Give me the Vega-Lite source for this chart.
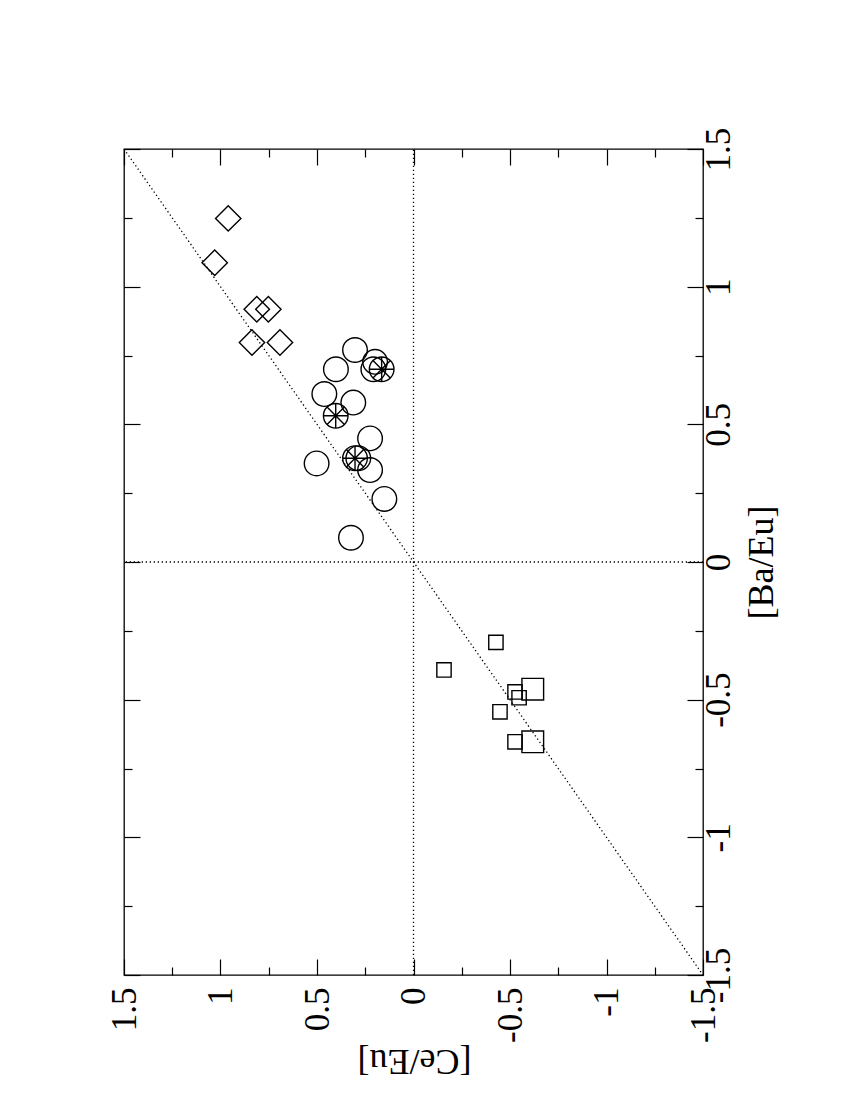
{
  "$schema": "https://vega.github.io/schema/vega-lite/v6.json",
  "width": 579,
  "height": 826,
  "autosize": "none",
  "padding": {"left": 124, "top": 149, "right": 147, "bottom": 125},
  "background": "white",
  "config": {
    "view": {"stroke": "black", "strokeWidth": 1.3, "fill": "white"},
    "axis": {"grid": false, "domain": false}
  },
  "datasets": {
    "lines": [
      {"ce1": 1.5, "ba1": 1.5, "ce2": -1.5, "ba2": -1.5},
      {"ce1": 0, "ba1": -1.5, "ce2": 0, "ba2": 1.5},
      {"ce1": -1.5, "ba1": 0, "ce2": 1.5, "ba2": 0}
    ],
    "pts": [
      {"ce": 0.96, "ba": 1.248, "type": "diamond"},
      {"ce": 1.03, "ba": 1.087, "type": "diamond"},
      {"ce": 0.812, "ba": 0.918, "type": "diamond"},
      {"ce": 0.752, "ba": 0.918, "type": "diamond"},
      {"ce": 0.837, "ba": 0.797, "type": "diamond"},
      {"ce": 0.692, "ba": 0.797, "type": "diamond"},
      {"ce": 0.303, "ba": 0.770, "type": "circle"},
      {"ce": 0.199, "ba": 0.727, "type": "circle"},
      {"ce": 0.402, "ba": 0.700, "type": "circle"},
      {"ce": 0.208, "ba": 0.700, "type": "circle"},
      {"ce": 0.165, "ba": 0.700, "type": "circle"},
      {"ce": 0.462, "ba": 0.610, "type": "circle"},
      {"ce": 0.312, "ba": 0.579, "type": "circle"},
      {"ce": 0.403, "ba": 0.531, "type": "circle"},
      {"ce": 0.225, "ba": 0.449, "type": "circle"},
      {"ce": 0.286, "ba": 0.377, "type": "circle"},
      {"ce": 0.303, "ba": 0.377, "type": "circle"},
      {"ce": 0.502, "ba": 0.358, "type": "circle"},
      {"ce": 0.225, "ba": 0.334, "type": "circle"},
      {"ce": 0.151, "ba": 0.229, "type": "circle"},
      {"ce": 0.324, "ba": 0.088, "type": "circle"},
      {"ce": 0.165, "ba": 0.700, "type": "asterisk"},
      {"ce": 0.403, "ba": 0.531, "type": "asterisk"},
      {"ce": 0.303, "ba": 0.377, "type": "asterisk"},
      {"ce": -0.427, "ba": -0.292, "type": "square_small"},
      {"ce": -0.158, "ba": -0.392, "type": "square_small"},
      {"ce": -0.526, "ba": -0.472, "type": "square_small"},
      {"ce": -0.547, "ba": -0.493, "type": "square_small"},
      {"ce": -0.448, "ba": -0.544, "type": "square_small"},
      {"ce": -0.526, "ba": -0.653, "type": "square_small"},
      {"ce": -0.618, "ba": -0.462, "type": "square_large"},
      {"ce": -0.618, "ba": -0.653, "type": "square_large"}
    ]
  },
  "layer": [
    {
      "data": {"name": "lines"},
      "mark": {"type": "rule", "color": "black", "strokeWidth": 1.3, "strokeDash": [1.3, 2.7]},
      "encoding": {
        "x": {
          "field": "ce1", "type": "quantitative",
          "scale": {"domain": [-1.5, 1.5], "reverse": true, "nice": false, "zero": false},
          "axis": {
            "orient": "bottom",
            "values": [-1.5, -1.25, -1, -0.75, -0.5, -0.25, 0, 0.25, 0.5, 0.75, 1, 1.25, 1.5],
            "labelExpr": "abs(datum.value*2 - round(datum.value*2)) > 0.01 ? '' : '' + datum.value",
            "labelAngle": -90, "labelAlign": "right", "labelBaseline": "middle",
            "labelFont": "Liberation Serif", "labelFontSize": 35, "labelColor": "black",
            "labelPadding": 28, "labelFlush": false, "labelOverlap": false, "labelBound": false,
            "tickSize": {"condition": {"test": "abs(datum.value*2 - round(datum.value*2)) > 0.01", "value": -8}, "value": -16},
            "tickColor": "black", "tickWidth": 1.2,
            "title": "[Ce/Eu]", "titleFont": "Liberation Serif", "titleFontSize": 36, "titleFontWeight": "normal", "titleColor": "black",
            "titleAngle": 180, "titleAlign": "center", "titleBaseline": "middle", "titleX": 290, "titleY": 85
          }
        },
        "x2": {"field": "ce2"},
        "y": {
          "field": "ba1", "type": "quantitative",
          "scale": {"domain": [-1.5, 1.5], "nice": false, "zero": false},
          "axis": {
            "orient": "right",
            "values": [-1.5, -1.25, -1, -0.75, -0.5, -0.25, 0, 0.25, 0.5, 0.75, 1, 1.25, 1.5],
            "labelExpr": "abs(datum.value*2 - round(datum.value*2)) > 0.01 ? '' : '' + datum.value",
            "labelAngle": -90, "labelAlign": "center", "labelBaseline": "top",
            "labelFont": "Liberation Serif", "labelFontSize": 35, "labelColor": "black",
            "labelPadding": 14, "labelFlush": false, "labelOverlap": false, "labelBound": false,
            "tickSize": {"condition": {"test": "abs(datum.value*2 - round(datum.value*2)) > 0.01", "value": -8}, "value": -16},
            "tickColor": "black", "tickWidth": 1.2,
            "title": "[Ba/Eu]", "titleFont": "Liberation Serif", "titleFontSize": 36, "titleFontWeight": "normal", "titleColor": "black",
            "titleAngle": -90, "titleAlign": "center", "titleBaseline": "middle", "titleX": 58, "titleY": 413
          }
        },
        "y2": {"field": "ba2"}
      }
    },
    {
      "data": {"name": "pts"},
      "transform": [{"filter": "datum.type === 'diamond'"}],
      "mark": {"type": "point", "shape": "diamond", "size": 645, "filled": false, "stroke": "black", "strokeWidth": 1.4, "opacity": 1},
      "encoding": {
        "x": {
          "field": "ce", "type": "quantitative",
          "axis": {
            "orient": "top", "labels": false, "title": null,
            "values": [-1.5, -1.25, -1, -0.75, -0.5, -0.25, 0, 0.25, 0.5, 0.75, 1, 1.25, 1.5],
            "tickSize": {"condition": {"test": "abs(datum.value*2 - round(datum.value*2)) > 0.01", "value": -8}, "value": -16},
            "tickColor": "black", "tickWidth": 1.2
          }
        },
        "y": {
          "field": "ba", "type": "quantitative",
          "axis": {
            "orient": "left", "labels": false, "title": null,
            "values": [-1.5, -1.25, -1, -0.75, -0.5, -0.25, 0, 0.25, 0.5, 0.75, 1, 1.25, 1.5],
            "tickSize": {"condition": {"test": "abs(datum.value*2 - round(datum.value*2)) > 0.01", "value": -8}, "value": -16},
            "tickColor": "black", "tickWidth": 1.2
          }
        }
      }
    },
    {
      "data": {"name": "pts"},
      "transform": [{"filter": "datum.type === 'circle'"}],
      "mark": {"type": "point", "shape": "circle", "size": 605, "filled": false, "stroke": "black", "strokeWidth": 1.4, "opacity": 1},
      "encoding": {
        "x": {"field": "ce", "type": "quantitative", "axis": null},
        "y": {"field": "ba", "type": "quantitative", "axis": null}
      }
    },
    {
      "data": {"name": "pts"},
      "transform": [{"filter": "datum.type === 'asterisk'"}],
      "mark": {"type": "point", "shape": "M-1,0L1,0M0,-1L0,1M-0.707,-0.707L0.707,0.707M-0.707,0.707L0.707,-0.707", "size": 605, "filled": false, "stroke": "black", "strokeWidth": 1.4, "opacity": 1},
      "encoding": {
        "x": {"field": "ce", "type": "quantitative", "axis": null},
        "y": {"field": "ba", "type": "quantitative", "axis": null}
      }
    },
    {
      "data": {"name": "pts"},
      "transform": [{"filter": "datum.type === 'square_large'"}],
      "mark": {"type": "point", "shape": "square", "size": 470, "filled": false, "stroke": "black", "strokeWidth": 1.4, "opacity": 1},
      "encoding": {
        "x": {"field": "ce", "type": "quantitative", "axis": null},
        "y": {"field": "ba", "type": "quantitative", "axis": null}
      }
    },
    {
      "data": {"name": "pts"},
      "transform": [{"filter": "datum.type === 'square_small'"}],
      "mark": {"type": "point", "shape": "square", "size": 205, "filled": false, "stroke": "black", "strokeWidth": 1.4, "opacity": 1},
      "encoding": {
        "x": {"field": "ce", "type": "quantitative", "axis": null},
        "y": {"field": "ba", "type": "quantitative", "axis": null}
      }
    }
  ],
  "resolve": {"axis": {"x": "independent", "y": "independent"}}
}
